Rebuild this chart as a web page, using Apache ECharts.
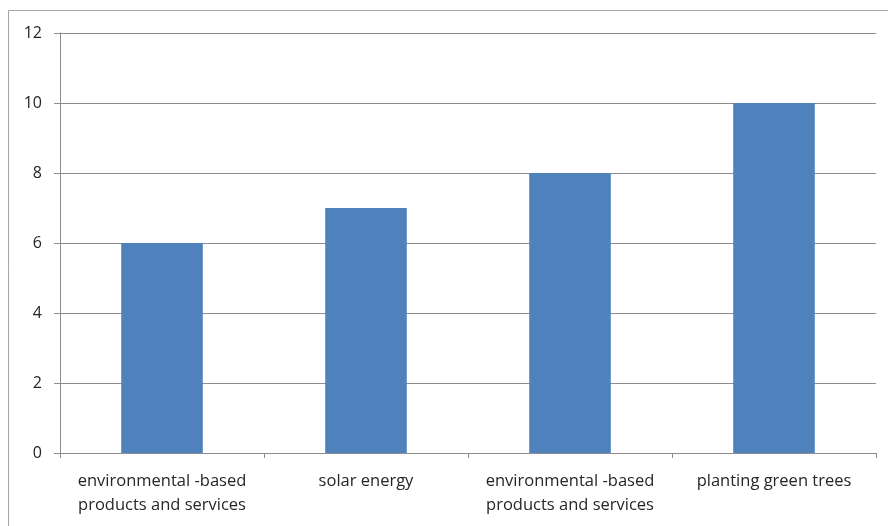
<!DOCTYPE html>
<html>
<head>
<meta charset="utf-8" />
<title></title>
<script type="text/javascript" src="https://cdn.jsdelivr.net/npm/echarts@6/dist/echarts.min.js"></script>
<style>
	html, body { margin: 0; padding: 0; background: #fff; }
</style>
</head>
<body>
	<div id="chartmain" style="width: 888px; height: 526px;"></div>
	<script type="text/javascript">
		// data
		var categories = [ 'environmental -based\nproducts and services', 'solar energy',
				'environmental -based\nproducts and services', 'planting green trees' ];
		var values = [ 6, 7, 8, 10 ];
		var yTicks = { min : 0, max : 12, interval : 2 };

		var option = {
			animation : false,
			backgroundColor : '#fff',
			// the outer frame of the picture
			graphic : [ {
				type : 'rect',
				shape : { x : 8.5, y : 10.5, width : 900, height : 600 },
				style : { fill : 'none', stroke : '#a6a6a6', lineWidth : 1 }
			} ],
			grid : {
				left : 60,
				right : 12,
				top : 33,
				bottom : 73
			},
			xAxis : {
				type : 'category',
				data : categories,
				axisLine : { lineStyle : { color : '#8c8c8c' } },
				axisTick : { show : true, length : 5, lineStyle : { color : '#8c8c8c' } },
				axisLabel : {
					color : '#262626',
					fontFamily : 'Open Sans',
					fontSize : 16.5,
					lineHeight : 24,
					margin : 16,
					interval : 0
				}
			},
			yAxis : {
				type : 'value',
				min : yTicks.min,
				max : yTicks.max,
				interval : yTicks.interval,
				axisLine : { show : true, lineStyle : { color : '#8c8c8c' } },
				axisTick : { show : true, length : 6, lineStyle : { color : '#8c8c8c' } },
				splitLine : { lineStyle : { color : '#8c8c8c' } },
				axisLabel : {
					color : '#262626',
					fontFamily : 'Open Sans',
					fontSize : 16,
					margin : 18
				}
			},
			series : [ {
				type : 'bar',
				barWidth : '40%',
				itemStyle : { color : '#4f81bd' },
				data : values
			} ]
		};

		var myChart = echarts.init(document.getElementById('chartmain'));
		myChart.setOption(option);
	</script>
</body>
</html>
